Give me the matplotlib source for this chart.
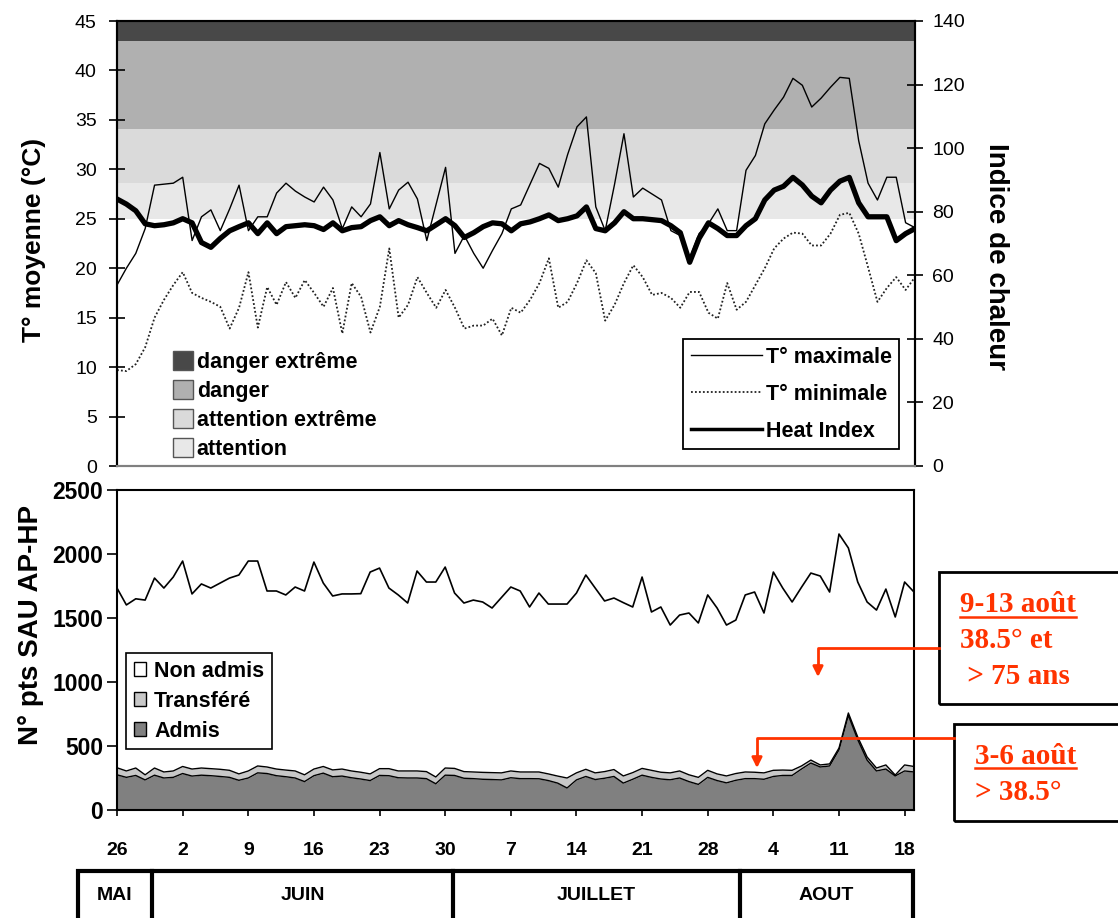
import numpy as np
import matplotlib
matplotlib.use("Agg")
import matplotlib.pyplot as plt
from matplotlib.patches import Patch, Rectangle
from matplotlib.lines import Line2D

W, H = 1118, 918
SANS = ['Liberation Sans', 'DejaVu Sans']
SERIF = ['Liberation Serif', 'DejaVu Serif']
plt.rcParams['font.family'] = SANS

# ---------------- data ----------------
days = np.arange(86)  # day 0 = 26 May

t_max = [18.3, 20.0, 21.5, 24.0, 28.4, 28.5, 28.6, 29.2, 22.8, 25.2,
         25.9, 23.8, 26.0, 28.4, 23.8, 25.2, 25.2, 27.6, 28.6, 27.8,
         27.2, 26.7, 28.2, 26.9, 24.0, 26.2, 25.2, 26.5, 31.7, 26.0,
         27.9, 28.7, 27.0, 22.8, 26.5, 30.2, 21.5, 23.3, 21.5, 20.0,
         21.8, 23.5, 26.0, 26.4, 28.5, 30.6, 30.1, 28.2, 31.5, 34.3,
         35.3, 26.2, 23.8, 28.5, 33.6, 27.2, 28.1, 27.5, 26.9, 23.8,
         23.3, 21.0, 23.5, 24.5, 26.0, 23.8, 23.8, 29.9, 31.4, 34.6,
         36.0, 37.3, 39.2, 38.5, 36.3, 37.2, 38.3, 39.3, 39.2, 32.9,
         28.6, 26.9, 29.2, 29.2, 24.6, 24.1]

t_min = [9.7, 9.6, 10.3, 12.0, 15.0, 16.8, 18.3, 19.6, 17.5, 17.0,
         16.6, 16.1, 13.9, 16.0, 19.6, 14.0, 18.1, 16.3, 18.6, 17.0,
         18.8, 17.5, 16.1, 18.0, 13.4, 18.5, 17.1, 13.5, 16.1, 22.0,
         15.0, 16.3, 19.1, 17.5, 16.0, 17.8, 16.0, 13.9, 14.2, 14.2,
         14.9, 13.2, 16.0, 15.5, 16.8, 18.5, 21.0, 16.0, 16.6, 18.5,
         20.8, 19.5, 14.7, 16.3, 18.5, 20.3, 19.1, 17.3, 17.5, 17.0,
         16.0, 17.6, 17.6, 15.5, 14.9, 18.5, 15.8, 16.6, 18.3, 20.0,
         22.0, 23.0, 23.6, 23.5, 22.3, 22.3, 23.5, 25.4, 25.6, 23.5,
         20.1, 16.6, 18.0, 19.1, 17.8, 19.1]

heat_index = [84.0, 82.4, 80.3, 76.2, 75.6, 75.9, 76.5, 77.8, 76.5, 70.3,
              68.8, 71.6, 74.0, 75.3, 76.5, 73.1, 76.5, 73.1, 75.3, 75.6,
              75.9, 75.6, 74.4, 76.5, 74.0, 75.0, 75.3, 77.2, 78.4, 75.6,
              77.2, 75.9, 75.0, 74.0, 75.9, 77.8, 75.6, 71.9, 73.4, 75.3,
              76.5, 76.2, 74.0, 76.2, 76.8, 77.8, 79.0, 77.2, 77.8, 78.7,
              81.5, 74.7, 74.0, 76.5, 80.0, 77.8, 77.8, 77.5, 77.2, 75.6,
              73.4, 64.1, 71.6, 76.5, 74.7, 72.5, 72.5, 75.6, 77.8, 83.7,
              86.8, 88.0, 90.8, 88.4, 84.9, 82.8, 86.8, 89.6, 90.8, 82.8,
              78.4, 78.4, 78.4, 70.9, 73.1, 74.7]

total_passages = [1734, 1602, 1650, 1640, 1812, 1734, 1820, 1945, 1688, 1766,
                  1734, 1773, 1812, 1836, 1945, 1945, 1711, 1711, 1680, 1742,
                  1711, 1937, 1773, 1672, 1688, 1688, 1690, 1859, 1890, 1734,
                  1680, 1617, 1867, 1781, 1781, 1898, 1695, 1617, 1640, 1625,
                  1578, 1660, 1742, 1711, 1586, 1695, 1609, 1609, 1609, 1695,
                  1836, 1734, 1633, 1656, 1620, 1586, 1820, 1547, 1586, 1445,
                  1523, 1539, 1461, 1680, 1578, 1445, 1484, 1680, 1703, 1539,
                  1859, 1734, 1625, 1740, 1851, 1828, 1703, 2156, 2047, 1781,
                  1625, 1562, 1726, 1508, 1781, 1703]

admis_plus_transfere = [330, 305, 328, 275, 328, 297, 305, 340, 320, 328,
                        323, 318, 310, 282, 305, 344, 336, 320, 312, 305,
                        275, 320, 340, 313, 320, 305, 295, 282, 323, 323,
                        305, 305, 305, 300, 258, 328, 325, 300, 297, 294,
                        292, 290, 305, 297, 297, 297, 282, 265, 250, 290,
                        318, 290, 300, 316, 266, 292, 325, 310, 295, 290,
                        305, 275, 255, 310, 282, 266, 285, 297, 295, 290,
                        310, 312, 310, 344, 390, 352, 360, 484, 758, 570,
                        414, 328, 352, 273, 352, 340]

admis = [275, 255, 270, 235, 272, 250, 255, 285, 265, 272,
         268, 262, 255, 232, 250, 290, 285, 268, 260, 250,
         222, 268, 288, 260, 265, 252, 242, 230, 270, 268,
         252, 250, 250, 245, 205, 272, 270, 248, 245, 240,
         238, 235, 252, 245, 245, 244, 230, 210, 172, 235,
         262, 238, 248, 262, 210, 240, 272, 255, 242, 236,
         250, 222, 200, 255, 230, 212, 232, 245, 245, 240,
         262, 270, 270, 320, 367, 336, 344, 470, 740, 550,
         390, 305, 320, 266, 305, 297]

band_names = ['danger extrême', 'danger', 'attention extrême', 'attention']
band_low = [43.0, 34.1, 28.6, 25.0]
band_high = [45.0, 43.0, 34.1, 28.6]
band_colors = ['#484848', '#b0b0b0', '#dadada', '#e8e8e8']

tick_days = [0, 7, 14, 21, 28, 35, 42, 49, 56, 63, 70, 77, 84]
tick_labels = ['26', '2', '9', '16', '23', '30', '7', '14', '21', '28', '4', '11', '18']
months = ['MAI', 'JUIN', 'JUILLET', 'AOUT']

ann1_lines = ['9-13 août', '38.5° et', ' > 75 ans']
ann2_lines = ['3-6 août', '> 38.5°']

RED = '#ff3300'

def fx(x):
    return x / W

def fy(y):
    return 1 - y / H

fig = plt.figure(figsize=(W / 100, H / 100), dpi=100)

# ---------------- top panel ----------------
ax1 = fig.add_axes([fx(117), fy(466), (915 - 117) / W, (466 - 21) / H])
ax1.set_xlim(0, 85)
ax1.set_ylim(0, 45)
for lo, hi, c in zip(band_low, band_high, band_colors):
    ax1.axhspan(lo, hi, color=c, lw=0, zorder=0)
ax1.plot(days, t_max, color='black', lw=1.0, zorder=3, label='T° maximale')
ax1.plot(days, t_min, color='#222222', lw=1.3, ls=(0, (1, 1.2)), zorder=3,
         label='T° minimale')
ax1.set_xticks([])
ax1.set_yticks(np.arange(0, 46, 5))
ax1.tick_params(axis='y', direction='inout', length=12, width=1.2, pad=8.5,
                labelsize=14)
ax1.set_ylabel('T° moyenne (°C)', fontsize=19, weight='bold')
ax1.yaxis.set_label_coords(-0.089, 0.508)

ax1r = ax1.twinx()
ax1r.set_ylim(0, 140)
ax1r.set_yticks(np.arange(0, 141, 20))
ax1r.plot(days, heat_index, color='black', lw=3.8, zorder=4, label='Heat Index',
          solid_joinstyle='round')
ax1r.tick_params(axis='y', direction='inout', length=12, width=1.2, pad=6.5,
                 labelsize=14)
ax1r.set_ylabel('Indice de chaleur', fontsize=20, weight='bold')
ax1r.yaxis.label.set_rotation(270)
ax1r.yaxis.label.set_va('bottom')
ax1r.yaxis.set_label_coords(1.085, 0.47)

for a in (ax1, ax1r):
    for s in ('left', 'right', 'top'):
        a.spines[s].set_color('black')
        a.spines[s].set_linewidth(1.5)
    a.spines['bottom'].set_color('#808080')
    a.spines['bottom'].set_linewidth(1.5)

band_handles = [Patch(facecolor=c, edgecolor='#555555', lw=1.0) for c in band_colors]
leg_bands = ax1r.legend(band_handles, band_names, loc='upper left',
                        bbox_to_anchor=(fx(173), fy(351)), bbox_transform=fig.transFigure,
                        frameon=False, borderpad=0, borderaxespad=0,
                        handlelength=0.95, handleheight=0.95, handletextpad=0.15,
                        labelspacing=0.34, prop={'size': 15.5, 'weight': 'bold'})
ax1r.add_artist(leg_bands)

line_handles = [Line2D([], [], color='black', lw=1.0),
                Line2D([], [], color='#222222', lw=1.3, ls=(0, (1, 1.2))),
                Line2D([], [], color='black', lw=2.5)]
leg_lines = ax1r.legend(line_handles, ['T° maximale', 'T° minimale', 'Heat Index'],
                        loc='upper left', bbox_to_anchor=(fx(683), fy(339)),
                        bbox_transform=fig.transFigure, frameon=True, fancybox=False,
                        borderpad=0.35, borderaxespad=0, handlelength=3.3,
                        handletextpad=0.2, labelspacing=0.75,
                        prop={'size': 15.5, 'weight': 'bold'})
leg_lines.get_frame().set_edgecolor('black')
leg_lines.get_frame().set_linewidth(1.3)
leg_lines.get_frame().set_alpha(1)

# ---------------- bottom panel ----------------
ax2 = fig.add_axes([fx(117), fy(810), (914 - 117) / W, (810 - 490) / H])
ax2.set_xlim(0, 85)
ax2.set_ylim(0, 2500)
ax2.fill_between(days, 0, admis, color='#808080', lw=0)
ax2.fill_between(days, admis, admis_plus_transfere, color='#c8c8c8', lw=0)
ax2.fill_between(days, admis_plus_transfere, total_passages, color='white', lw=0)
ax2.plot(days, admis, color='black', lw=1.0)
ax2.plot(days, admis_plus_transfere, color='black', lw=1.0)
ax2.plot(days, total_passages, color='black', lw=1.2)
ax2.set_yticks(np.arange(0, 2501, 500))
ax2.set_xticks(tick_days)
ax2.set_xticklabels(tick_labels)
ax2.tick_params(axis='y', direction='out', length=7, width=1.2, pad=3, labelsize=16.5)
ax2.tick_params(axis='x', direction='out', length=4, width=1.2, pad=19, labelsize=14)
for lab in ax2.get_xticklabels() + ax2.get_yticklabels():
    lab.set_fontweight('bold')
for s in ax2.spines.values():
    s.set_color('black')
    s.set_linewidth(1.5)
ax2.set_ylabel('N° pts SAU AP-HP', fontsize=20, weight='bold')
ax2.yaxis.set_label_coords(-0.0916, 0.578)

stack_handles = [Patch(facecolor='white', edgecolor='black', lw=1.0),
                 Patch(facecolor='#c8c8c8', edgecolor='black', lw=1.0),
                 Patch(facecolor='#808080', edgecolor='black', lw=1.0)]
leg_stack = ax2.legend(stack_handles, ['Non admis', 'Transféré', 'Admis'],
                       loc='upper left', bbox_to_anchor=(fx(126), fy(653)),
                       bbox_transform=fig.transFigure, frameon=True, fancybox=False,
                       borderpad=0.35, borderaxespad=0, handlelength=0.6,
                       handleheight=0.6, handletextpad=0.35, labelspacing=0.42,
                       prop={'size': 15.5, 'weight': 'bold'})
leg_stack.get_frame().set_edgecolor('black')
leg_stack.get_frame().set_linewidth(1.2)
leg_stack.get_frame().set_alpha(1)

# ---------------- month table ----------------
fig.add_artist(Rectangle((fx(78), fy(930)), (913 - 78) / W, (930 - 871) / H,
                         transform=fig.transFigure, fill=False, lw=3, ec='black',
                         clip_on=False))
month_edges = [78, 152, 453, 740, 913]
for xe in month_edges[1:-1]:
    fig.add_artist(Line2D([fx(xe), fx(xe)], [fy(871), fy(930)], color='black', lw=3))
for m, a, b in zip(months, month_edges[:-1], month_edges[1:]):
    fig.text(fx((a + b) / 2), fy(895), m, ha='center', va='center',
             fontsize=14, weight='bold')

# ---------------- annotations ----------------
fig.add_artist(Rectangle((fx(939), fy(704)), (1130 - 939) / W, (704 - 572) / H,
                         transform=fig.transFigure, fill=False, lw=2, ec='black'))
fig.add_artist(Rectangle((fx(954), fy(821)), (1130 - 954) / W, (821 - 724) / H,
                         transform=fig.transFigure, fill=False, lw=2, ec='black'))

t_items = []
for txt, x, y in zip(ann1_lines, [960, 960, 960], [605, 641, 676]):
    t_items.append(fig.text(fx(x), fy(y), txt, ha='left', va='center', color=RED,
                            fontsize=21, weight='bold', family=SERIF))
for txt, x, y in zip(ann2_lines, [975, 975], [756, 793]):
    t_items.append(fig.text(fx(x), fy(y), txt, ha='left', va='center', color=RED,
                            fontsize=21, weight='bold', family=SERIF))

fig.canvas.draw()
renderer = fig.canvas.get_renderer()
for t in (t_items[0], t_items[3]):
    bb = t.get_window_extent(renderer)
    yline = bb.y0 + 2
    fig.add_artist(Line2D([bb.x0 / W, bb.x1 / W], [yline / H, yline / H],
                          color=RED, lw=1.8))

# arrows (elbow connectors)
for (x0, y0, x1, y1) in [(939, 648, 818, 677), (954, 738, 757, 768)]:
    fig.add_artist(Line2D([fx(x0), fx(x1), fx(x1)], [fy(y0), fy(y0), fy(y1 - 10)],
                          color=RED, lw=2))
    ax2.annotate('', xy=(fx(x1), fy(y1)), xycoords='figure fraction',
                 xytext=(fx(x1), fy(y1 - 12)), textcoords='figure fraction',
                 arrowprops=dict(arrowstyle='-|>,head_length=0.6,head_width=0.3',
                                 color=RED, lw=2, shrinkA=0, shrinkB=0),
                 annotation_clip=False)

fig.savefig('out.png', dpi=100)
